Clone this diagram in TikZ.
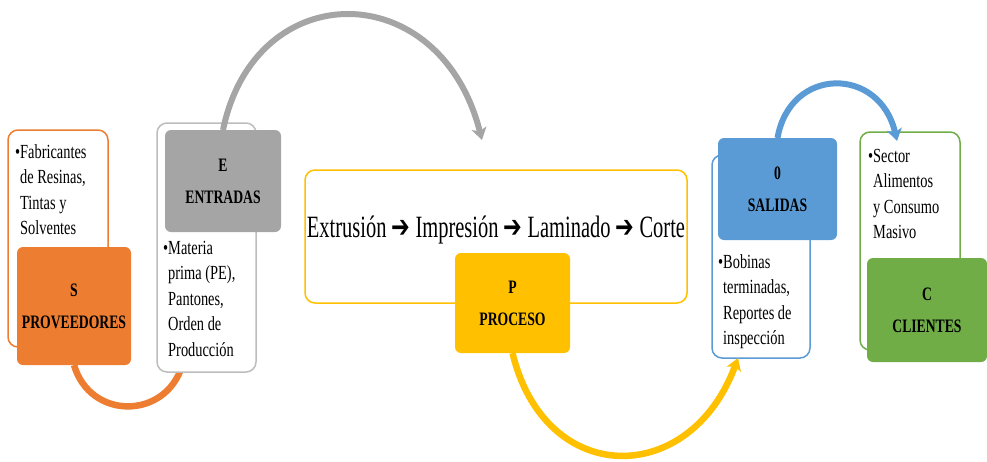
\documentclass[tikz,border=0pt]{standalone}
\usepackage{fontspec}
\setmainfont[FakeStretch=0.72]{Liberation Serif}
\newfontfamily\procfont[FakeStretch=0.66]{Liberation Serif}
\newfontfamily\arrowfont[FakeStretch=0.72]{DejaVu Sans}
\usetikzlibrary{arrows.meta}
\definecolor{cOrange}{HTML}{ED7D31}
\definecolor{cGray}{HTML}{A5A5A5}
\definecolor{cGrayLine}{HTML}{BDBDBD}
\definecolor{cYellow}{HTML}{FFC000}
\definecolor{cBlue}{HTML}{5B9BD5}
\definecolor{cGreen}{HTML}{70AD47}
\newcommand{\nextstep}{\,{\arrowfont\bfseries ➔}\,}
\tikzset{
  textbox/.style={draw=#1, line width=1.5pt, fill=white, rounded corners=10pt, inner sep=0pt},
  labelbox/.style={fill=#1, rounded corners=6pt, inner sep=0pt, align=center,
    font=\fontsize{19}{32}\selectfont\bfseries},
  bodytext/.style={inner sep=0pt, anchor=north west, align=left,
    font=\fontsize{20}{25.5}\selectfont},
  flow/.style={draw=#1, line width=6.5pt},
  flowtip/.style={draw=#1, line width=6.5pt, -{Stealth[length=12pt,width=15pt,inset=3pt]}}
}
\begin{document}
\begin{tikzpicture}[x=1pt,y=-1pt]
\useasboundingbox (0,0) rectangle (987,461);

% end points of the curved connectors
\coordinate (orangeEnd) at (182,366);
\coordinate (grayEnd) at (482,140);
\coordinate (yellowEnd) at (738,358);
\coordinate (blueEnd) at (897,141);

% centres of the stage labels
\path (74,306) coordinate (sC);
\path (223,181) coordinate (eC);
\path (512.5,303) coordinate (pC);
\path (777.5,189) coordinate (oC);
\path (927,310) coordinate (cC);

% supplier to inputs arc (passes beneath the inputs box)
\draw[flow=cOrange] (74,365) .. controls (90,420) and (165,420) .. (orangeEnd);

% outlined text boxes
\node[textbox=cOrange, minimum width=100pt, minimum height=217pt] (stext) at (58,238.5) {};
\node[textbox=cGrayLine, minimum width=99pt, minimum height=249pt] (etext) at (206.5,247.5) {};
\node[textbox=cYellow, minimum width=382pt, minimum height=133pt] (ptext) at (496,236.5) {};
\node[textbox=cBlue, minimum width=98pt, minimum height=203pt] (otext) at (761,256.5) {};
\node[textbox=cGreen, minimum width=100pt, minimum height=218pt] (ctext) at (910,241) {};

% flow arcs between stages
\draw[flowtip=cGray, line width=6pt] (223,130) .. controls (255,-25) and (440,-25) .. (grayEnd);
\draw[flowtip=cYellow] (512.5,353) .. controls (545,488) and (690,488) .. (yellowEnd);
\draw[flowtip=cBlue, line width=6pt] (777.5,138) .. controls (790,66) and (880,66) .. (blueEnd);

% filled stage labels
\node[labelbox=cOrange, minimum width=114pt, minimum height=118pt] (S) at (sC) {S\\PROVEEDORES};
\node[labelbox=cGray, minimum width=116pt, minimum height=102pt] (E) at (eC) {E\\ENTRADAS};
\node[labelbox=cYellow, minimum width=115pt, minimum height=100pt] (P) at (pC) {P\\PROCESO};
\node[labelbox=cBlue, minimum width=119pt, minimum height=102pt] (O) at (oC) {0\\SALIDAS};
\node[labelbox=cGreen, minimum width=120pt, minimum height=104pt] (C) at (cC) {C\\CLIENTES};

% box contents
\node[bodytext] (stxt) at (20,144) {\llap{\textbullet}Fabricantes\\de Resinas,\\Tintas y\\Solventes};
\node[bodytext] (etxt) at (168,241) {\llap{\textbullet}Materia\\prima (PE),\\Pantones,\\Orden de\\Producción};
\node[bodytext] (otxt) at (723,254) {\llap{\textbullet}Bobinas\\terminadas,\\Reportes de\\inspección};
\node[bodytext] (ctxt) at (873,149) {\llap{\textbullet}Sector\\Alimentos\\y Consumo\\Masivo};
\node[inner sep=0pt, anchor=base, font=\procfont\fontsize{31}{36}\selectfont] (ptxt) at (496,237)
  {Extrusión\nextstep Impresión\nextstep Laminado\nextstep Corte};
\end{tikzpicture}
\end{document}
